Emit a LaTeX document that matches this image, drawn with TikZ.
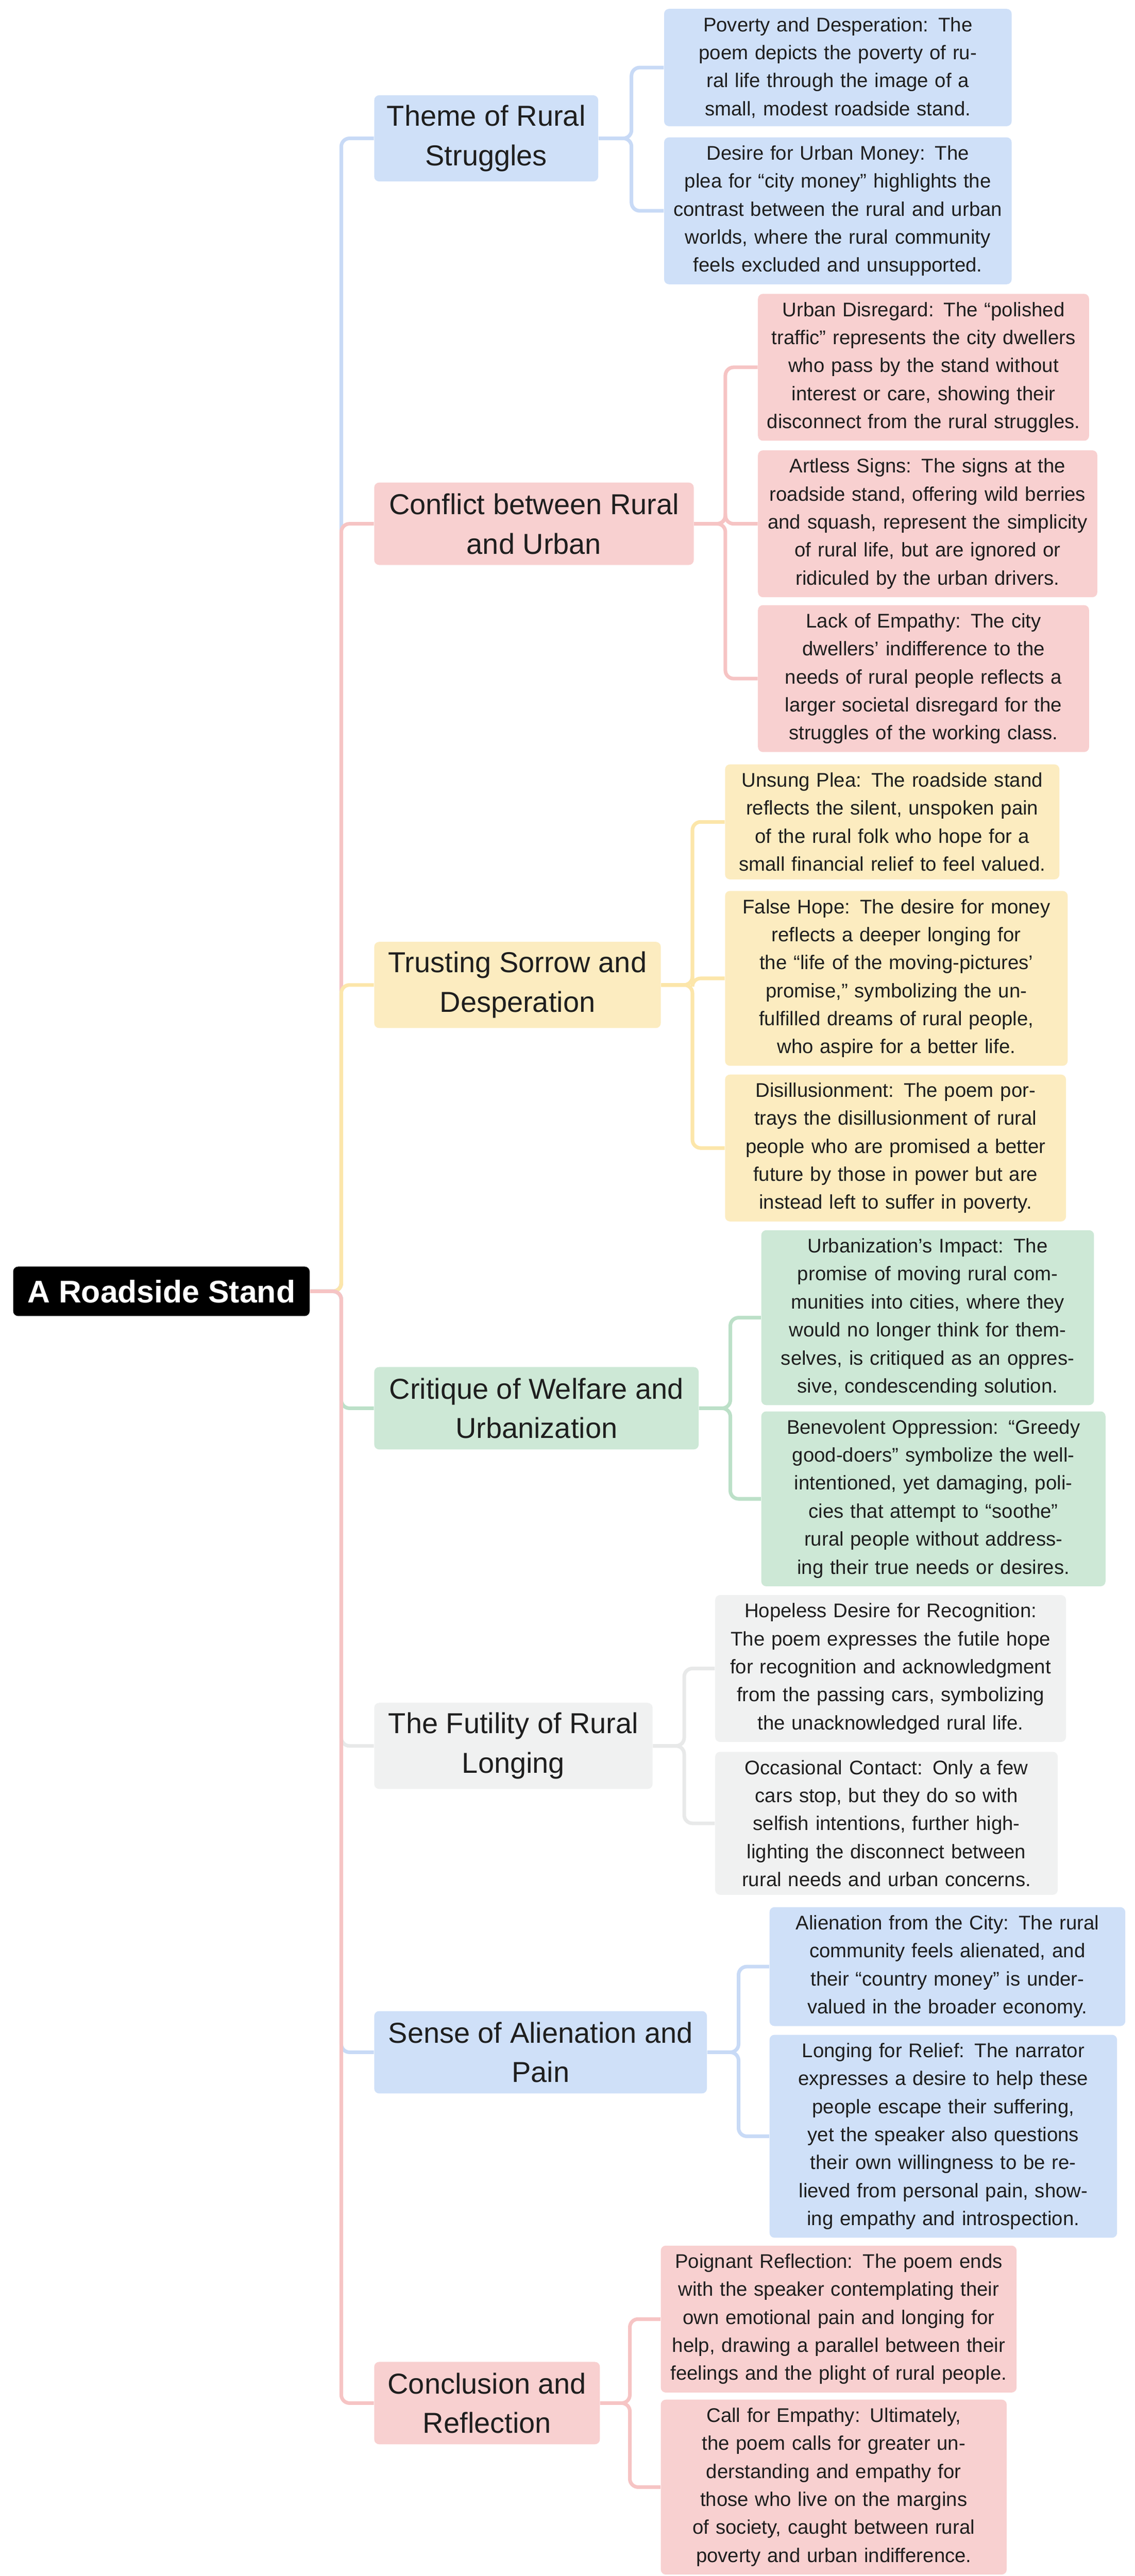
\documentclass[tikz,border=0pt]{standalone}
\usepackage{fontspec}
\setmainfont{Liberation Sans}
\definecolor{bluef}{RGB}{207,224,248}
\definecolor{redf}{RGB}{248,208,208}
\definecolor{yellowf}{RGB}{252,236,192}
\definecolor{greenf}{RGB}{205,232,214}
\definecolor{grayf}{RGB}{240,241,241}
\definecolor{bluel}{RGB}{200,218,246}
\definecolor{redl}{RGB}{246,196,196}
\definecolor{yellowl}{RGB}{252,230,170}
\definecolor{greenl}{RGB}{188,224,200}
\definecolor{grayl}{RGB}{232,233,233}
\definecolor{textc}{RGB}{30,30,30}
\tikzset{
  root/.style={fill=black,text=white,rounded corners=3pt,minimum width=180pt,minimum height=30pt,font=\fontsize{19}{22}\selectfont\bfseries},
  branch/.style={rounded corners=3pt,align=center,anchor=west,inner sep=6pt,minimum height=50pt,text=textc,font=\fontsize{17.5}{24}\selectfont},
  leaf/.style={rounded corners=3pt,align=center,anchor=west,inner sep=5pt,text=textc,font=\fontsize{12}{17}\selectfont},
  link/.style={line width=2.2pt,rounded corners=5pt}
}
\begin{document}
\begin{tikzpicture}[x=1pt,y=-1pt]
\useasboundingbox (0,0) rectangle (689,1564);
\node[root] (root) at (98,784) {A Roadside Stand};

\node[branch,fill=bluef,minimum width=136pt] (theme) at (227,84) {Theme of Rural\\Struggles};
\node[branch,fill=redf,minimum width=194pt] (conflict) at (227,318) {Conflict between Rural\\and Urban};
\node[branch,fill=yellowf,minimum width=174pt] (sorrow) at (227,598) {Trusting Sorrow and\\Desperation};
\node[branch,fill=greenf,minimum width=197pt] (critique) at (227,855) {Critique of Welfare and\\Urbanization};
\node[branch,fill=grayf,minimum width=169pt] (futility) at (227,1060) {The Futility of Rural\\Longing};
\node[branch,fill=bluef,minimum width=202pt] (alien) at (227,1246) {Sense of Alienation and\\Pain};
\node[branch,fill=redf,minimum width=137pt] (concl) at (227,1459) {Conclusion and\\Reflection};

\node[leaf,fill=bluef,text width=201pt,minimum height=67pt] (poverty) at (403,41) {Poverty and Desperation: The poem depicts the poverty of rural life through the image of a small, modest roadside stand.};
\node[leaf,fill=bluef,text width=201pt,minimum height=82pt] (money) at (403,128) {Desire for Urban Money: The plea for ``city money'' highlights the contrast between the rural and urban worlds, where the rural community feels excluded and unsupported.};
\node[leaf,fill=redf,text width=191pt,minimum height=83pt] (disregard) at (460,223) {Urban Disregard: The ``polished traffic'' represents the city dwellers who pass by the stand without interest or care, showing their disconnect from the rural struggles.};
\node[leaf,fill=redf,text width=196pt,minimum height=82pt] (signs) at (460,318) {Artless Signs: The signs at the roadside stand, offering wild berries and squash, represent the simplicity of rural life, but are ignored or ridiculed by the urban drivers.};
\node[leaf,fill=redf,text width=191pt,minimum height=83pt] (empathy) at (460,412) {Lack of Empathy: The city dwellers' indifference to the needs of rural people reflects a larger societal disregard for the struggles of the working class.};
\node[leaf,fill=yellowf,text width=193pt,minimum height=67pt] (plea) at (440,499) {Unsung Plea: The roadside stand reflects the silent, unspoken pain of the rural folk who hope for a small financial relief to feel valued.};
\node[leaf,fill=yellowf,text width=198pt,minimum height=99pt] (hope) at (440,594) {False Hope: The desire for money reflects a deeper longing for the ``life of the moving-pictures' promise,'' symbolizing the unfulfilled dreams of rural people, who aspire for a better life.};
\node[leaf,fill=yellowf,text width=197pt,minimum height=82pt] (disill) at (440,697) {Disillusionment: The poem portrays the disillusionment of rural people who are promised a better future by those in power but are instead left to suffer in poverty.};
\node[leaf,fill=greenf,text width=192pt,minimum height=98pt] (impact) at (462,800) {Urbanization's Impact: The promise of moving rural communities into cities, where they would no longer think for themselves, is critiqued as an oppressive, condescending solution.};
\node[leaf,fill=greenf,text width=199pt,minimum height=99pt] (oppress) at (462,910) {Benevolent Oppression: ``Greedy good-doers'' symbolize the well-intentioned, yet damaging, policies that attempt to ``soothe'' rural people without addressing their true needs or desires.};
\node[leaf,fill=grayf,text width=203pt,minimum height=82pt] (recog) at (434,1013) {Hopeless Desire for Recognition: The poem expresses the futile hope for recognition and acknowledgment from the passing cars, symbolizing the unacknowledged rural life.};
\node[leaf,fill=grayf,text width=198pt,minimum height=82pt] (contact) at (434,1107) {Occasional Contact: Only a few cars stop, but they do so with selfish intentions, further highlighting the disconnect between rural needs and urban concerns.};
\node[leaf,fill=bluef,text width=206pt,minimum height=67pt] (city) at (467,1194) {Alienation from the City: The rural community feels alienated, and their ``country money'' is undervalued in the broader economy.};
\node[leaf,fill=bluef,text width=201pt,minimum height=115pt] (relief) at (467,1297) {Longing for Relief: The narrator expresses a desire to help these people escape their suffering, yet the speaker also questions their own willingness to be relieved from personal pain, showing empathy and introspection.};
\node[leaf,fill=redf,text width=206pt,minimum height=82pt] (poignant) at (401,1408) {Poignant Reflection: The poem ends with the speaker contemplating their own emotional pain and longing for help, drawing a parallel between their feelings and the plight of rural people.};
\node[leaf,fill=redf,text width=200pt,minimum height=99pt] (call) at (401,1510) {Call for Empathy: Ultimately, the poem calls for greater understanding and empathy for those who live on the margins of society, caught between rural poverty and urban indifference.};

% root to branches
\draw[link,bluel] (root.east) -- ++(19,0) |- (theme.west);
\draw[link,redl] (root.east) -- ++(19,0) |- (conflict.west);
\draw[link,yellowl] (root.east) -- ++(19,0) |- (sorrow.west);
\draw[link,greenl] (root.east) -- ++(19,0) |- (critique.west);
\draw[link,grayl] (root.east) -- ++(19,0) |- (futility.west);
\draw[link,bluel] (root.east) -- ++(19,0) |- (alien.west);
\draw[link,redl] (root.east) -- ++(19,0) |- (concl.west);

% branches to leaves
\draw[link,bluel] (theme.east) -- ++(20,0) |- (poverty.west);
\draw[link,bluel] (theme.east) -- ++(20,0) |- (money.west);
\draw[link,redl] (conflict.east) -- ++(19,0) |- (disregard.west);
\draw[link,redl] (conflict.east) -- ++(19,0) |- (signs.west);
\draw[link,redl] (conflict.east) -- ++(19,0) |- (empathy.west);
\draw[link,yellowl] (sorrow.east) -- ++(19,0) |- (plea.west);
\draw[link,yellowl] (sorrow.east) -- ++(19,0) |- (hope.west);
\draw[link,yellowl] (sorrow.east) -- ++(19,0) |- (disill.west);
\draw[link,greenl] (critique.east) -- ++(19,0) |- (impact.west);
\draw[link,greenl] (critique.east) -- ++(19,0) |- (oppress.west);
\draw[link,grayl] (futility.east) -- ++(19,0) |- (recog.west);
\draw[link,grayl] (futility.east) -- ++(19,0) |- (contact.west);
\draw[link,bluel] (alien.east) -- ++(19,0) |- (city.west);
\draw[link,bluel] (alien.east) -- ++(19,0) |- (relief.west);
\draw[link,redl] (concl.east) -- ++(18,0) |- (poignant.west);
\draw[link,redl] (concl.east) -- ++(18,0) |- (call.west);
\end{tikzpicture}
\end{document}
